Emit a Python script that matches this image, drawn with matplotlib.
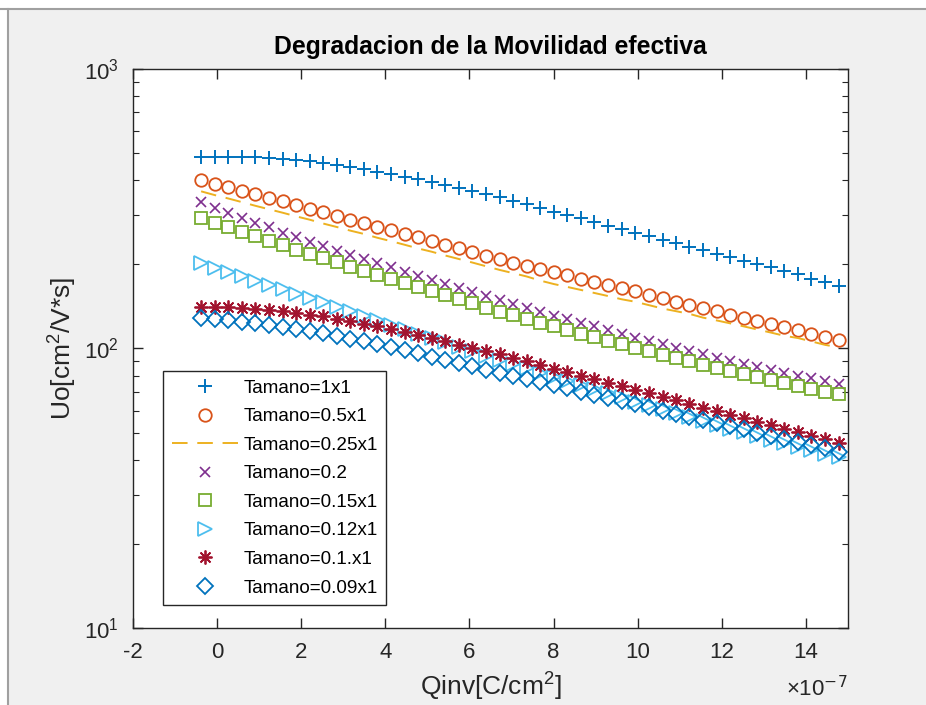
import numpy as np
import matplotlib.pyplot as plt
from matplotlib.ticker import LogLocator, NullFormatter, MultipleLocator
from matplotlib.patches import Rectangle
from matplotlib.lines import Line2D

plt.rcParams['font.family'] = ['Liberation Sans', 'DejaVu Sans']
plt.rcParams['mathtext.default'] = 'regular'
plt.rcParams['axes.unicode_minus'] = False

# ================================
# DATA
# ================================
# Qinv in units of 1e-7 C/cm2
qinv = [-0.38, -0.06, 0.27, 0.59, 0.91, 1.23, 1.56, 1.88, 2.20, 2.52, 2.85, 3.17,
        3.49, 3.81, 4.14, 4.46, 4.78, 5.10, 5.43, 5.75, 6.07, 6.39, 6.72, 7.04,
        7.36, 7.68, 8.01, 8.33, 8.65, 8.97, 9.30, 9.62, 9.94, 10.26, 10.59, 10.91,
        11.23, 11.55, 11.88, 12.20, 12.52, 12.84, 13.17, 13.49, 13.81, 14.13, 14.46, 14.78]

mu_1x1 = [486, 486, 486, 485, 484, 481, 478, 473, 467, 460, 453, 446, 438, 429, 420, 411,
          403, 395, 385, 376, 367, 358, 347, 337, 328, 318, 309, 300, 292, 283, 275, 267,
          260, 252, 245, 238, 231, 225, 218, 212, 206, 200, 195, 189, 184, 178, 173, 168]
mu_05x1 = [401, 389, 378, 367, 356, 346, 336, 326, 316, 307, 298, 289, 281, 273, 265, 257,
           250, 242, 235, 228, 222, 215, 209, 203, 198, 193, 188, 183, 178, 173, 169, 164,
           160, 155, 151, 147, 143, 140, 136, 132, 129, 125, 122, 119, 116, 113, 110, 107]
mu_025x1 = [365, 354, 344, 334, 324, 315, 306, 297, 289, 280, 272, 264, 257, 249, 242, 235,
            228, 222, 215, 209, 203, 197, 191, 186, 181, 175, 170, 166, 162, 158, 154, 150,
            147, 143, 139, 136, 133, 129, 126, 123, 120, 117, 114, 111, 109, 106, 103, 101]
mu_02 = [333, 319, 306, 293, 282, 271, 260, 251, 241, 233, 224, 216, 209, 202, 195, 188,
         182, 176, 170, 165, 159, 154, 149, 144, 140, 135, 131, 127, 123, 120, 116, 113,
         109, 106, 103.5, 100.6, 97.9, 95.3, 92.8, 90.4, 88.1, 86.0, 83.9, 81.9, 80.0, 78.2, 76.5, 74.9]
mu_015x1 = [292.5, 281.6, 271.1, 261.3, 251.8, 242.6, 233.8, 225.5, 217.5, 210.1, 203.1, 196.3,
            189.8, 183.5, 177.4, 171.5, 165.8, 160.3, 155.0, 149.9, 144.9, 140.1, 135.4, 131.4,
            127.4, 123.6, 119.9, 116.4, 113.0, 109.7, 106.5, 103.5, 100.5, 97.7, 95.1, 92.4,
            90.0, 87.5, 85.3, 83.0, 81.0, 78.9, 77.0, 75.1, 73.3, 71.6, 70.0, 68.8]
mu_012x1 = [201.9, 194.7, 187.8, 181.1, 174.7, 168.6, 162.8, 157.1, 151.6, 146.3, 141.3, 136.1,
            131.2, 126.4, 121.8, 117.4, 113.1, 109.0, 105.1, 101.3, 97.7, 94.3, 91.1, 87.9,
            84.9, 82.0, 79.2, 76.5, 73.9, 71.5, 69.1, 66.8, 64.6, 62.6, 60.5, 58.6,
            56.8, 55.0, 53.3, 51.6, 50.1, 48.6, 47.2, 45.8, 44.5, 43.2, 42.0, 40.9]
mu_01x1 = [141.3, 141.2, 140.7, 139.9, 138.8, 137.6, 136.1, 134.3, 132.3, 130.2, 127.8, 125.3,
           122.7, 120.0, 117.3, 114.5, 111.7, 108.9, 106.0, 103.3, 100.6, 97.9, 95.3, 92.6,
           89.9, 87.3, 84.8, 82.3, 80.0, 77.7, 75.4, 73.3, 71.1, 69.1, 67.1, 65.2,
           63.3, 61.5, 59.7, 58.0, 56.3, 54.7, 53.1, 51.6, 50.1, 48.7, 47.3, 45.9]
mu_009x1 = [128.4, 127.2, 126.0, 124.5, 123.0, 121.4, 119.6, 117.6, 115.6, 113.3, 111.0, 108.5,
            106.0, 103.5, 101.0, 98.5, 96.0, 93.5, 91.1, 88.7, 86.4, 84.1, 82.0, 79.9,
            77.8, 75.8, 73.9, 72.0, 70.1, 68.3, 66.6, 64.9, 63.2, 61.6, 60.0, 58.5,
            57.0, 55.5, 54.1, 52.7, 51.4, 50.0, 48.8, 47.5, 46.3, 45.1, 44.0, 42.8]

labels = ['Tamano=1x1', 'Tamano=0.5x1', 'Tamano=0.25x1', 'Tamano=0.2',
          'Tamano=0.15x1', 'Tamano=0.12x1', 'Tamano=0.1.x1', 'Tamano=0.09x1']

# ================================
# PLOT  (x axis in units of 1e-7, shown by the x10^-7 note)
# ================================
fig = plt.figure(figsize=(9.26, 7.05), dpi=100, facecolor='#f0f0f0')
ax = fig.add_axes([133/926, 77/705, 715/926, 559/705])

ax.plot(qinv, mu_1x1, '+', color='#0072BD', ms=10, mew=1.4, label=labels[0])
ax.plot(qinv, mu_05x1, 'o', color='#D95319', ms=9, mew=1.3, mfc='none', label=labels[1])
ax.plot(qinv, mu_025x1, '--', color='#EDB120', lw=1.4, dashes=(8, 5), label=labels[2])
ax.plot(qinv, mu_02, 'x', color='#7E2F8E', ms=7, mew=1.2, label=labels[3])
ax.plot(qinv, mu_015x1, 's', color='#77AC30', ms=8, mew=1.3, mfc='none', label=labels[4])
ax.plot(qinv, mu_012x1, '>', color='#4DBEEE', ms=9.5, mew=1.3, mfc='none', label=labels[5])
ax.plot(qinv, mu_01x1, marker=(8, 2, 0), ls='none', color='#A2142F', ms=10, mew=1.3, label=labels[6])
ax.plot(qinv, mu_009x1, 'D', color='#0072BD', ms=8, mew=1.3, mfc='none', label=labels[7])

ax.set_yscale('log')
ax.set_xlim(-2, 15)
ax.set_ylim(10, 1000)

ax.xaxis.set_major_locator(MultipleLocator(2))
ax.yaxis.set_major_locator(LogLocator(base=10))
ax.yaxis.set_minor_locator(LogLocator(base=10, subs=np.arange(2, 10)))
ax.yaxis.set_minor_formatter(NullFormatter())

ax.tick_params(which='both', direction='in', top=True, right=True, colors='#262626',
               labelsize=16, pad=10)
ax.tick_params(which='major', length=7, width=1)
ax.tick_params(which='minor', length=4, width=0.8)
for s in ax.spines.values():
    s.set_color('#262626')
    s.set_linewidth(1)

ax.text(1.0, -0.108, r'$\times$10$^{\mathrm{-7}}$', transform=ax.transAxes, ha='right',
        va='center', fontsize=16, color='#262626')

ax.set_title('Degradacion de la Movilidad efectiva', fontsize=17.8, fontweight='bold', pad=11)
ax.set_xlabel('Qinv[C/cm$^2$]', fontsize=19, color='#262626', labelpad=6)
ax.set_ylabel('Uo[cm$^2$/V*s]', fontsize=19, color='#262626', labelpad=4)

leg = ax.legend(loc='lower left', bbox_to_anchor=(0.042, 0.041), fontsize=13.6,
                handlelength=3.5, labelspacing=0.6, borderpad=0.45, handletextpad=0.3,
                fancybox=False, framealpha=1, borderaxespad=0)
leg.get_frame().set_edgecolor('#262626')
leg.get_frame().set_linewidth(1)

# window chrome
fig.add_artist(Rectangle((0, 1 - 9/705), 1, 9/705, transform=fig.transFigure,
                         facecolor='white', edgecolor='none'))
fig.add_artist(Line2D([0, 1], [1 - 9/705, 1 - 9/705], transform=fig.transFigure,
                      color='#a0a0a0', lw=1.5))
fig.add_artist(Rectangle((0, 0), 8/926, 1, transform=fig.transFigure,
                         facecolor='white', edgecolor='none'))
fig.add_artist(Line2D([8/926, 8/926], [0, 1 - 9/705], transform=fig.transFigure,
                      color='#a0a0a0', lw=1.5))

plt.savefig('out.png', dpi=100, facecolor=fig.get_facecolor())
